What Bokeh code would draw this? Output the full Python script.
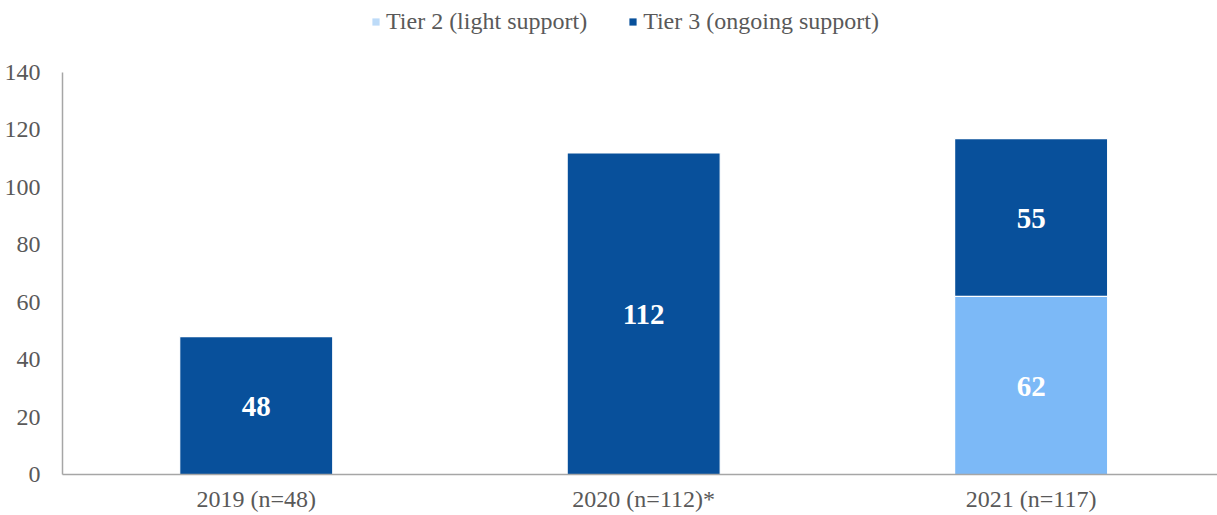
from bokeh.plotting import figure
from bokeh.models import (ColumnDataSource, Range1d, FixedTicker, Legend, LegendItem, LabelSet)
from bokeh.embed import file_html
from bokeh.resources import INLINE

categories = ["2019 (n=48)", "2020 (n=112)*", "2021 (n=117)"]
tier2 = [0, 0, 62]
tier3 = [48, 112, 55]
series_names = ["Tier 2 (light support)", "Tier 3 (ongoing support)"]
y_ticks = [0, 20, 40, 60, 80, 100, 120, 140]

DARK = "#08509B"
LIGHT = "#7CB9F7"
LIGHT_LEG = "#BDDBF8"
GRAY_TXT = "#595959"
AXIS = "#A6A6A6"
FONT = "Liberation Serif"

xs = [i + 0.5 for i in range(len(categories))]
src = ColumnDataSource(dict(x=xs, cat=categories, t2=tier2, t3=tier3))

# frame spans y=0..474 px; 140 sits at y=72 px
y_top = 140 * 474 / 402

p = figure(width=1217, height=515, output_backend="svg", toolbar_location=None,
           x_range=Range1d(0, 2.981), y_range=Range1d(0, y_top),
           min_border_left=62, min_border_right=0, min_border_top=0, min_border_bottom=41)
p.outline_line_color = None
p.xgrid.visible = False
p.ygrid.visible = False

r = p.vbar_stack(["t2", "t3"], x="x", width=0.395, source=src,
                 color=[LIGHT, DARK], line_color="white", line_width=1.2)

# labels
lab_x, lab_y, lab_t = [], [], []
for i, x in enumerate(xs):
    base = 0
    for v in (tier2[i], tier3[i]):
        if v > 0:
            lab_x.append(x); lab_y.append(base + v / 2); lab_t.append(str(v))
        base += v
lsrc = ColumnDataSource(dict(x=lab_x, y=lab_y, t=lab_t))
p.add_layout(LabelSet(x="x", y="y", text="t", source=lsrc, text_align="center",
                      text_baseline="middle", text_color="white", text_font=FONT,
                      text_font_size="29px", text_font_style="bold", y_offset=-1))

# legend swatches: zero-height bars (draw nothing in the plot)
d1 = p.vbar(x=[xs[0]], top=[0], bottom=[0], width=0.1, fill_color=LIGHT_LEG, line_color=None)
d2 = p.vbar(x=[xs[0]], top=[0], bottom=[0], width=0.1, fill_color=DARK, line_color=None)
legend = Legend(items=[LegendItem(label=series_names[0], renderers=[d1]),
                       LegendItem(label=series_names[1], renderers=[d2])],
                orientation="horizontal", location=(309, 439),
                glyph_width=9, glyph_height=9, label_standoff=6, spacing=41,
                padding=0, margin=0, border_line_color=None, background_fill_alpha=0,
                label_text_font=FONT, label_text_font_size="24px", label_text_color=GRAY_TXT)
p.add_layout(legend, "center")

for ax in (p.xaxis[0], p.yaxis[0]):
    ax.axis_line_color = AXIS
    ax.axis_line_width = 1.5
    ax.major_tick_line_color = None
    ax.minor_tick_line_color = None
    ax.major_label_text_font = FONT
    ax.major_label_text_font_size = "24px"
    ax.major_label_text_color = GRAY_TXT

p.yaxis.bounds = (0, 140)
p.xaxis.ticker = FixedTicker(ticks=xs)
p.xaxis.major_label_overrides = {x: c for x, c in zip(xs, categories)}
p.xaxis.major_label_standoff = 5
p.yaxis.ticker = FixedTicker(ticks=y_ticks)
p.yaxis.major_label_standoff = 16

open("out.html", "w").write(file_html(p, INLINE))
